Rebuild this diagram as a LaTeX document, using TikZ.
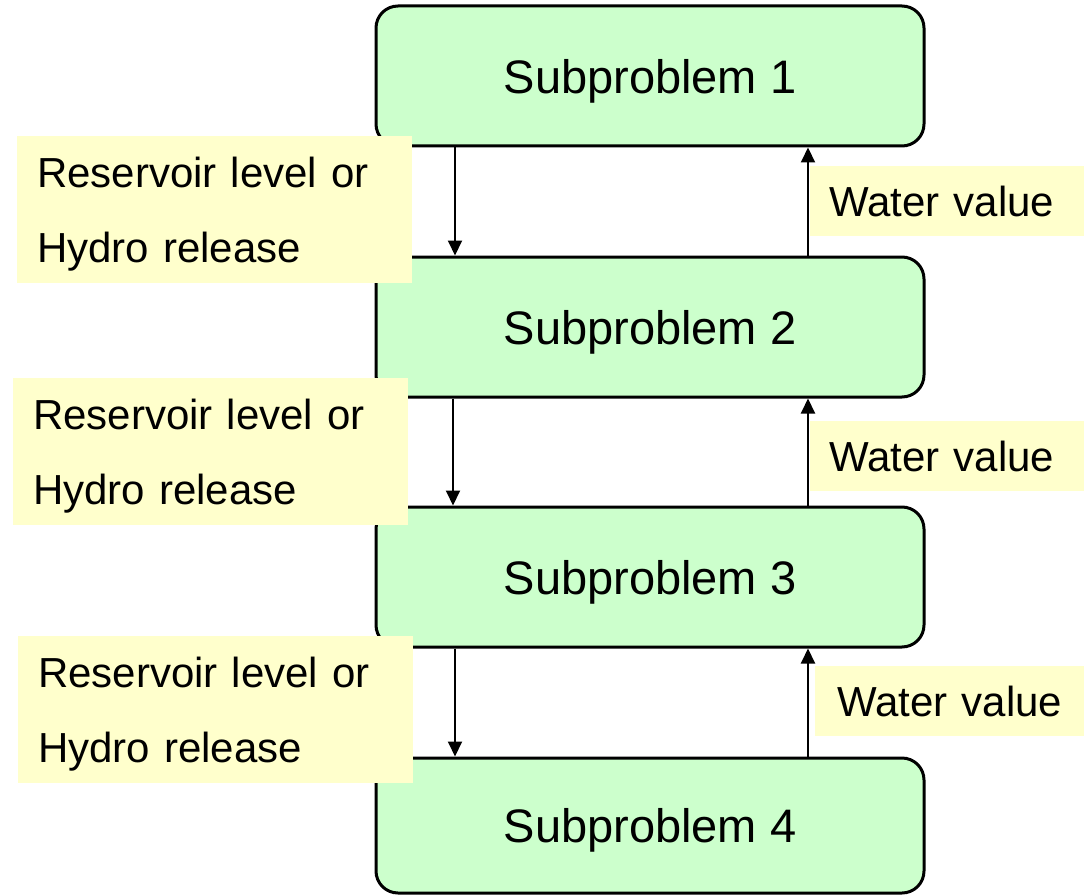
\documentclass[tikz,border=0pt]{standalone}
\usepackage{fontspec}
\setmainfont{Liberation Sans}
\usetikzlibrary{arrows.meta}
\definecolor{subgreen}{HTML}{CCFFCC}
\definecolor{noteyellow}{HTML}{FFFFCC}
\newcommand{\notelines}{\rule{0pt}{40pt}Reservoir level or\\Hydro release}
\tikzset{
  subbox/.style={draw=black, line width=3pt, fill=subgreen, rounded corners=22pt,
    minimum width=548pt, minimum height=140pt, inner sep=0pt, text depth=0pt,
    font=\fontsize{47}{56}\selectfont},
  leftnote/.style={fill=noteyellow, inner xsep=20pt, inner ysep=0pt, anchor=north west,
    text width=355pt, minimum height=147pt, align=left,
    font=\fontsize{42}{75}\selectfont},
  rightnote/.style={fill=noteyellow, inner xsep=19pt, inner ysep=0pt, anchor=north west,
    text width=255pt, minimum height=70pt, align=left,
    font=\fontsize{42}{50}\selectfont},
  flow/.style={draw=black, line width=2pt, -{Triangle[length=15pt,width=14pt]}}
}
\begin{document}
\begin{tikzpicture}[x=1pt,y=-1pt]
  \useasboundingbox (0,0) rectangle (1084,896);

  % the four subproblems
  \node[subbox] (s1) at (650,76) {Subproblem 1};
  \node[subbox] (s2) at (650,327) {Subproblem 2};
  \node[subbox] (s3) at (650,577) {Subproblem 3};
  \node[subbox, minimum height=135pt] (s4) at (650,825.5) {Subproblem 4};

  % forward notes (left)
  \node[leftnote] (f1) at (17,136) {\notelines};
  \node[leftnote] (f2) at (13,378) {\notelines};
  \node[leftnote] (f3) at (18,636) {\notelines};

  % backward notes (right)
  \node[rightnote] (b1) at (810,166) {Water value};
  \node[rightnote] (b2) at (810,421) {Water value};
  \node[rightnote, inner xsep=22pt] (b3) at (815,666) {Water value};

  % forward passes
  \draw[flow] ([xshift=-195pt]s1.south) -- ([xshift=-195pt]s2.north);
  \draw[flow] ([xshift=-197pt]s2.south) -- ([xshift=-197pt]s3.north);
  \draw[flow] ([xshift=-195pt]s3.south) -- ([xshift=-195pt]s4.north);

  % backward passes
  \draw[flow] ([xshift=158pt]s2.north) -- ([xshift=158pt]s1.south);
  \draw[flow] ([xshift=158pt]s3.north) -- ([xshift=158pt]s2.south);
  \draw[flow] ([xshift=158pt]s4.north) -- ([xshift=158pt]s3.south);
\end{tikzpicture}
\end{document}
